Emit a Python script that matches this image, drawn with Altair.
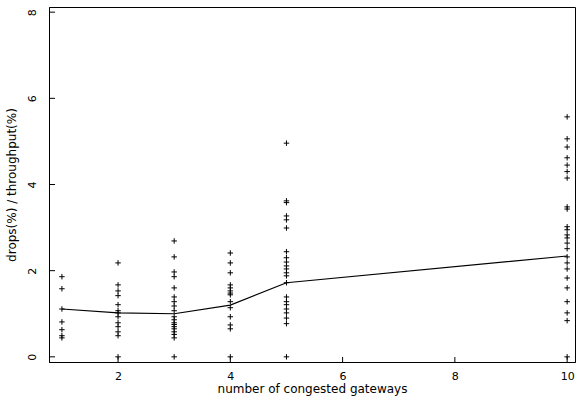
import altair as alt
import pandas as pd

# Measured ratio drops(%) / throughput(%) per run, grouped by gateway count
g1 = [1.86, 1.58, 1.11, 0.81, 0.63, 0.49, 0.44]
g2 = [2.18, 1.67, 1.53, 1.42, 1.21, 1.07, 1.02, 0.93, 0.79, 0.70, 0.58, 0.49, 0.0]
g3 = [2.69, 2.32, 1.97, 1.86, 1.60, 1.39, 1.28, 1.18, 1.07, 0.93, 0.86, 0.79,
      0.75, 0.70, 0.65, 0.58, 0.52, 0.44, 0.0]
g4 = [2.41, 2.18, 1.95, 1.67, 1.60, 1.53, 1.48, 1.44, 1.28, 1.14, 0.93, 0.74,
      0.65, 0.0]
g5 = [4.96, 3.62, 3.58, 3.27, 3.18, 2.99, 2.44, 2.30, 2.20, 2.11, 2.04, 1.95,
      1.88, 1.72, 1.39, 1.28, 1.21, 1.11, 1.02, 0.90, 0.77, 0.0]
g10 = [5.57, 5.06, 4.87, 4.62, 4.45, 4.30, 4.15, 3.48, 3.43, 3.02, 2.95, 2.83,
       2.76, 2.64, 2.51, 2.32, 2.18, 2.04, 1.83, 1.60, 1.28, 1.02, 0.84, 0.0]

gateways = [1, 2, 3, 4, 5, 10]
groups = [g1, g2, g3, g4, g5, g10]

# Smoothed curve evaluated at each gateway count
smooth_y = [1.11, 1.02, 1.00, 1.20, 1.72, 2.34]

x_ticks = [2, 4, 6, 8, 10]
y_ticks = [0, 2, 4, 6, 8]

points = pd.DataFrame(
    [{"n": n, "ratio": v} for n, vals in zip(gateways, groups) for v in vals]
)
curve = pd.DataFrame({"n": gateways, "ratio": smooth_y})
xt = pd.DataFrame({"n": x_ticks})
yt = pd.DataFrame({"ratio": y_ticks})

W, H = 526, 355
FONT = "DejaVu Sans"

xscale = alt.Scale(domain=[0.77, 10.14], nice=False, zero=False)
yscale = alt.Scale(domain=[-0.12, 8.12], nice=False, zero=False)

x_enc = alt.X(
    "n:Q", scale=xscale,
    axis=alt.Axis(title="number of congested gateways", values=x_ticks,
                  format="d", grid=False, ticks=False, domainColor="black",
                  labelColor="black", labelFontSize=11, labelFont=FONT,
                  labelPadding=8, titleFont=FONT, titleFontSize=12,
                  titleFontWeight="normal", titleColor="black", titlePadding=2),
)
y_enc = alt.Y(
    "ratio:Q", scale=yscale,
    axis=alt.Axis(title="drops(%) / throughput(%)", values=y_ticks, format="d",
                  grid=False, ticks=False, domainColor="black",
                  labelColor="black", labelFontSize=11, labelFont=FONT,
                  labelAngle=270, labelAlign="center", labelBaseline="bottom",
                  labelPadding=12, titleFont=FONT, titleFontSize=12,
                  titleFontWeight="normal", titleColor="black", titlePadding=8),
)

plus = "M-1,0H1M0,-1V1"

pts = alt.Chart(points).mark_point(
    shape=plus, filled=False, color="black", size=30, strokeWidth=1, opacity=1
).encode(x=x_enc, y=y_enc)

line = alt.Chart(curve).mark_line(color="black", strokeWidth=1.2).encode(
    x=alt.X("n:Q", scale=xscale), y=alt.Y("ratio:Q", scale=yscale)
)

# Inward tick marks on both axes
xtick_marks = alt.Chart(xt).mark_rule(color="black", strokeWidth=1).encode(
    x=alt.X("n:Q", scale=xscale), y=alt.value(H), y2=alt.value(H - 5)
)
ytick_marks = alt.Chart(yt).mark_rule(color="black", strokeWidth=1).encode(
    y=alt.Y("ratio:Q", scale=yscale), x=alt.value(0), x2=alt.value(6)
)

chart = (
    alt.layer(pts, line, xtick_marks, ytick_marks)
    .properties(
        width=W, height=H,
        autosize=alt.AutoSizeParams(type="none"),
        padding={"left": 49, "top": 7, "right": 3, "bottom": 34},
        background="white",
    )
    .configure_view(stroke="black", strokeWidth=1)
)

chart.save("out.html", embed_options={"renderer": "svg", "actions": False})
